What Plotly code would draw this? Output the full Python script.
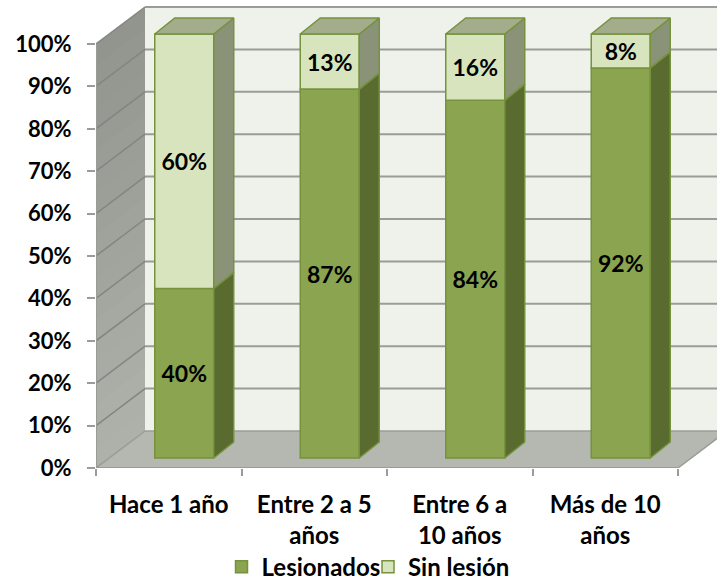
import plotly.graph_objects as go

categories = ["Hace 1 año", "Entre 2 a 5<br>años", "Entre 6 a<br>10 años", "Más de 10<br>años"]
lesionados = [40, 87, 84.4, 92]
sin_lesion = [60, 13, 15.6, 8]
y_ticks = list(range(0, 101, 10))

# Geometry of the imitation 3D box, in axis units
PX_X, PX_Y = 145.5, 4.24
WALL_DX, WALL_DY = 49 / PX_X, 37 / PX_Y
BAR_SHIFT_X, BAR_SHIFT_Y = 15.5 / PX_X, 10 / PX_Y
BAR_W = 59 / PX_X
BAR_DX, BAR_DY = 20 / PX_X, 16 / PX_Y
X_MAX, Y_MAX = 621 / PX_X, 468 / PX_Y
N = len(categories)
GREY = "#9a9c98"
WALL_LINE = "#838583"
EDGE = "#76923c"


def path(points):
    return "M" + "L".join(f"{x:.4f},{y:.4f}" for x, y in points) + "Z"


shapes = []


def poly(points, fill):
    shapes.append(dict(type="path", path=path(points), xref="x", yref="y", layer="below",
                       fillcolor=fill, line=dict(width=0)))


def seg(x0, y0, x1, y1, width=2, color=GREY):
    shapes.append(dict(type="line", x0=x0, y0=y0, x1=x1, y1=y1, xref="x", yref="y", layer="below",
                       line=dict(color=color, width=width)))


# back wall
poly([(WALL_DX, WALL_DY), (N + WALL_DX, WALL_DY), (N + WALL_DX, 100 + WALL_DY), (WALL_DX, 100 + WALL_DY)], "#eff2eb")
# left wall, painted from top to bottom in overlapping bands so it lightens downward
for i in range(20, 0, -1):
    t = i / 20
    c = (176 - 30 * t, 178 - 30 * t, 172 - 30 * t)
    top = 100 * t
    poly([(0, 0), (WALL_DX, WALL_DY), (WALL_DX, top + WALL_DY), (0, top)],
         f"rgb({c[0]:.0f},{c[1]:.0f},{c[2]:.0f})")
# floor
poly([(0, 0), (N, 0), (N + WALL_DX, WALL_DY), (WALL_DX, WALL_DY)], "#b5b8b0")
# gridlines
for v in y_ticks:
    if v:
        seg(WALL_DX, v + WALL_DY, N + WALL_DX, v + WALL_DY)
    seg(0, v, WALL_DX, v + WALL_DY, 1.5, WALL_LINE if v else GREY)
seg(WALL_DX, WALL_DY, N + WALL_DX, WALL_DY, 1.5)
seg(N, 0, N + WALL_DX, WALL_DY, 1.5)

xs = [i + 0.5 + BAR_SHIFT_X for i in range(N)]
base_low = [BAR_SHIFT_Y] * N
base_high = [BAR_SHIFT_Y + v for v in lesionados]

fig = go.Figure()
label_font = dict(family="Lato", size=23, color="black", weight="bold")
fig.add_bar(x=xs, y=lesionados, base=base_low, width=BAR_W, name="Lesionados",
            marker=dict(color="#8aa44f", line=dict(color=EDGE, width=1.5)),
            text=[f"{v:.0f}%" for v in lesionados], textposition="inside", insidetextanchor="middle",
            textangle=0, textfont=label_font, constraintext="none", hoverinfo="skip")
fig.add_bar(x=xs, y=sin_lesion, base=base_high, width=BAR_W, name="Sin lesión", legend="legend2",
            marker=dict(color="#d7e4bd", line=dict(color=EDGE, width=1.5)),
            text=[f"{v:.0f}%" for v in sin_lesion], textposition="inside", insidetextanchor="middle",
            textangle=0, textfont=label_font, constraintext="none", hoverinfo="skip")


def side_polys(bases, values):
    px, py = [], []
    for x, b, v in zip(xs, bases, values):
        r = x + BAR_W / 2
        px += [r, r + BAR_DX, r + BAR_DX, r, r, None]
        py += [b, b + BAR_DY, b + v + BAR_DY, b + v, b, None]
    return px, py


def top_polys(bases, values):
    px, py = [], []
    for x, b, v in zip(xs, bases, values):
        l, r = x - BAR_W / 2, x + BAR_W / 2
        t = b + v
        px += [l, r, r + BAR_DX, l + BAR_DX, l, None]
        py += [t, t, t + BAR_DY, t + BAR_DY, t, None]
    return px, py


for (px, py), fill in [(side_polys(base_low, lesionados), "#5a6b30"),
                       (side_polys(base_high, sin_lesion), "#8a9277"),
                       (top_polys(base_high, sin_lesion), "#a3ad8b")]:
    fig.add_scatter(x=px, y=py, mode="lines", fill="toself", fillcolor=fill,
                    line=dict(color=EDGE, width=1.5), showlegend=False, hoverinfo="skip")

# front axis lines
fig.add_scatter(x=[0, 0, N], y=[100, 0, 0], mode="lines", line=dict(color=GREY, width=2),
                showlegend=False, hoverinfo="skip", cliponaxis=False)

tick_font = dict(family="Lato", size=24, color="black", weight="bold")
legend_style = dict(orientation="h", xanchor="left", y=-0.164, yanchor="top", font=tick_font,
                    bgcolor="rgba(0,0,0,0)")
fig.update_layout(
    width=717, height=583, paper_bgcolor="white", plot_bgcolor="white",
    margin=dict(l=96, r=0, t=0, b=115, autoexpand=False),
    barmode="overlay", hovermode=False, shapes=shapes,
    xaxis=dict(range=[0, X_MAX], tickmode="array", tickvals=[i + 0.5 for i in range(N)], ticktext=categories,
               ticks="", showgrid=False, zeroline=False, tickfont=tick_font, ticklabelstandoff=20,
               minor=dict(tickmode="array", tickvals=list(range(N + 1)), ticks="outside", ticklen=7,
                          tickwidth=2, tickcolor=GREY, showgrid=False)),
    yaxis=dict(range=[0, Y_MAX], tickmode="array", tickvals=y_ticks, ticktext=[f"{v}%" for v in y_ticks],
               ticks="outside", ticklen=8, tickwidth=2, tickcolor=GREY, showgrid=False, zeroline=False,
               tickfont=dict(family="Lato", size=22, color="black", weight="bold"), ticklabelstandoff=11),
    legend=dict(x=0.2021, **legend_style),
    legend2=dict(x=0.438, **legend_style),
    font=dict(family="Lato"),
)
fig.write_html("out.html", post_script="document.body.style.margin='0';",
               config={"displayModeBar": False})
